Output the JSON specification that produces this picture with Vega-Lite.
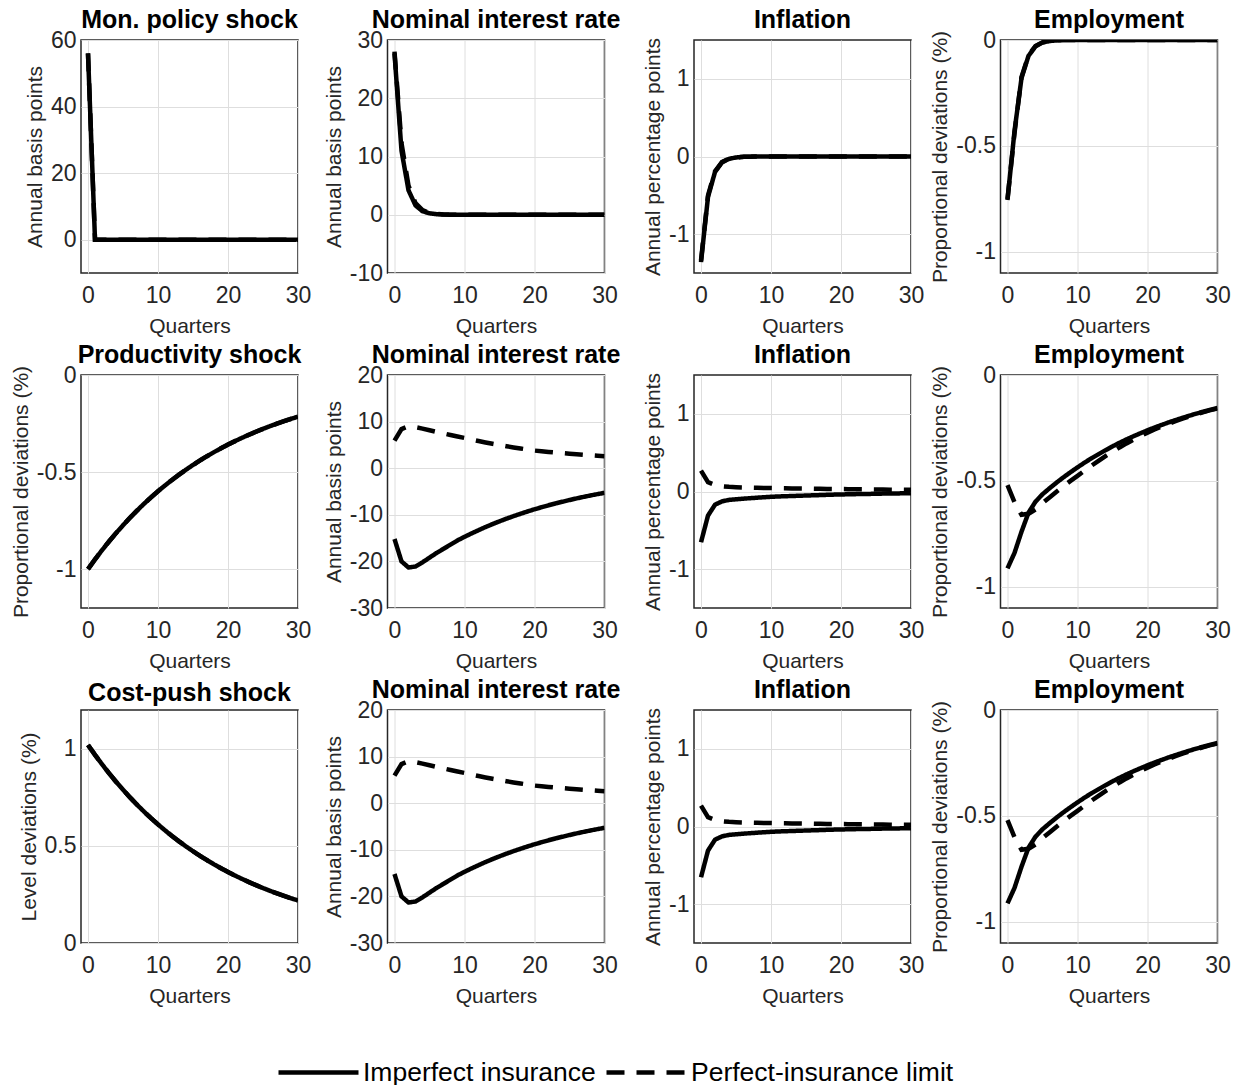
{
"$schema": "https://vega.github.io/schema/vega-lite/v6.json",
"padding": {"left": 9, "top": 6, "right": 5, "bottom": 5},
"background": "white",
"data": {"values": [
{"p":"m1","t":0,"imperfect":56,"perfect":56},{"p":"m1","t":1,"imperfect":0,"perfect":0},{"p":"m1","t":2,"imperfect":0,"perfect":0},{"p":"m1","t":3,"imperfect":0,"perfect":0},{"p":"m1","t":4,"imperfect":0,"perfect":0},{"p":"m1","t":5,"imperfect":0,"perfect":0},{"p":"m1","t":6,"imperfect":0,"perfect":0},{"p":"m1","t":7,"imperfect":0,"perfect":0},{"p":"m1","t":8,"imperfect":0,"perfect":0},{"p":"m1","t":9,"imperfect":0,"perfect":0},{"p":"m1","t":10,"imperfect":0,"perfect":0},{"p":"m1","t":11,"imperfect":0,"perfect":0},{"p":"m1","t":12,"imperfect":0,"perfect":0},{"p":"m1","t":13,"imperfect":0,"perfect":0},{"p":"m1","t":14,"imperfect":0,"perfect":0},{"p":"m1","t":15,"imperfect":0,"perfect":0},{"p":"m1","t":16,"imperfect":0,"perfect":0},{"p":"m1","t":17,"imperfect":0,"perfect":0},{"p":"m1","t":18,"imperfect":0,"perfect":0},{"p":"m1","t":19,"imperfect":0,"perfect":0},{"p":"m1","t":20,"imperfect":0,"perfect":0},{"p":"m1","t":21,"imperfect":0,"perfect":0},{"p":"m1","t":22,"imperfect":0,"perfect":0},{"p":"m1","t":23,"imperfect":0,"perfect":0},{"p":"m1","t":24,"imperfect":0,"perfect":0},{"p":"m1","t":25,"imperfect":0,"perfect":0},{"p":"m1","t":26,"imperfect":0,"perfect":0},{"p":"m1","t":27,"imperfect":0,"perfect":0},{"p":"m1","t":28,"imperfect":0,"perfect":0},{"p":"m1","t":29,"imperfect":0,"perfect":0},{"p":"m1","t":30,"imperfect":0,"perfect":0},

{"p":"i1","t":0,"imperfect":27.7,"perfect":28.0},{"p":"i1","t":1,"imperfect":11.0,"perfect":12.3},{"p":"i1","t":2,"imperfect":4.2,"perfect":5.0},{"p":"i1","t":3,"imperfect":1.6,"perfect":2.0},{"p":"i1","t":4,"imperfect":0.6,"perfect":0.8},{"p":"i1","t":5,"imperfect":0.25,"perfect":0.32},{"p":"i1","t":6,"imperfect":0.1,"perfect":0.13},{"p":"i1","t":7,"imperfect":0.04,"perfect":0.05},{"p":"i1","t":8,"imperfect":0.015,"perfect":0.02},{"p":"i1","t":9,"imperfect":0.005,"perfect":0.008},{"p":"i1","t":10,"imperfect":0,"perfect":0},{"p":"i1","t":11,"imperfect":0,"perfect":0},{"p":"i1","t":12,"imperfect":0,"perfect":0},{"p":"i1","t":13,"imperfect":0,"perfect":0},{"p":"i1","t":14,"imperfect":0,"perfect":0},{"p":"i1","t":15,"imperfect":0,"perfect":0},{"p":"i1","t":16,"imperfect":0,"perfect":0},{"p":"i1","t":17,"imperfect":0,"perfect":0},{"p":"i1","t":18,"imperfect":0,"perfect":0},{"p":"i1","t":19,"imperfect":0,"perfect":0},{"p":"i1","t":20,"imperfect":0,"perfect":0},{"p":"i1","t":21,"imperfect":0,"perfect":0},{"p":"i1","t":22,"imperfect":0,"perfect":0},{"p":"i1","t":23,"imperfect":0,"perfect":0},{"p":"i1","t":24,"imperfect":0,"perfect":0},{"p":"i1","t":25,"imperfect":0,"perfect":0},{"p":"i1","t":26,"imperfect":0,"perfect":0},{"p":"i1","t":27,"imperfect":0,"perfect":0},{"p":"i1","t":28,"imperfect":0,"perfect":0},{"p":"i1","t":29,"imperfect":0,"perfect":0},{"p":"i1","t":30,"imperfect":0,"perfect":0},

{"p":"p1","t":0,"imperfect":-1.36,"perfect":-1.34},{"p":"p1","t":1,"imperfect":-0.52,"perfect":-0.5},{"p":"p1","t":2,"imperfect":-0.2,"perfect":-0.19},{"p":"p1","t":3,"imperfect":-0.075,"perfect":-0.072},{"p":"p1","t":4,"imperfect":-0.03,"perfect":-0.028},{"p":"p1","t":5,"imperfect":-0.012,"perfect":-0.011},{"p":"p1","t":6,"imperfect":-0.005,"perfect":-0.004},{"p":"p1","t":7,"imperfect":-0.002,"perfect":-0.002},{"p":"p1","t":8,"imperfect":0,"perfect":0},{"p":"p1","t":9,"imperfect":0,"perfect":0},{"p":"p1","t":10,"imperfect":0,"perfect":0},{"p":"p1","t":11,"imperfect":0,"perfect":0},{"p":"p1","t":12,"imperfect":0,"perfect":0},{"p":"p1","t":13,"imperfect":0,"perfect":0},{"p":"p1","t":14,"imperfect":0,"perfect":0},{"p":"p1","t":15,"imperfect":0,"perfect":0},{"p":"p1","t":16,"imperfect":0,"perfect":0},{"p":"p1","t":17,"imperfect":0,"perfect":0},{"p":"p1","t":18,"imperfect":0,"perfect":0},{"p":"p1","t":19,"imperfect":0,"perfect":0},{"p":"p1","t":20,"imperfect":0,"perfect":0},{"p":"p1","t":21,"imperfect":0,"perfect":0},{"p":"p1","t":22,"imperfect":0,"perfect":0},{"p":"p1","t":23,"imperfect":0,"perfect":0},{"p":"p1","t":24,"imperfect":0,"perfect":0},{"p":"p1","t":25,"imperfect":0,"perfect":0},{"p":"p1","t":26,"imperfect":0,"perfect":0},{"p":"p1","t":27,"imperfect":0,"perfect":0},{"p":"p1","t":28,"imperfect":0,"perfect":0},{"p":"p1","t":29,"imperfect":0,"perfect":0},{"p":"p1","t":30,"imperfect":0,"perfect":0},

{"p":"e1","t":0,"imperfect":-0.755,"perfect":-0.75},{"p":"e1","t":1,"imperfect":-0.43,"perfect":-0.44},{"p":"e1","t":2,"imperfect":-0.18,"perfect":-0.175},{"p":"e1","t":3,"imperfect":-0.075,"perfect":-0.072},{"p":"e1","t":4,"imperfect":-0.03,"perfect":-0.028},{"p":"e1","t":5,"imperfect":-0.012,"perfect":-0.011},{"p":"e1","t":6,"imperfect":-0.005,"perfect":-0.004},{"p":"e1","t":7,"imperfect":-0.002,"perfect":-0.002},{"p":"e1","t":8,"imperfect":0,"perfect":0},{"p":"e1","t":9,"imperfect":0,"perfect":0},{"p":"e1","t":10,"imperfect":0,"perfect":0},{"p":"e1","t":11,"imperfect":0,"perfect":0},{"p":"e1","t":12,"imperfect":0,"perfect":0},{"p":"e1","t":13,"imperfect":0,"perfect":0},{"p":"e1","t":14,"imperfect":0,"perfect":0},{"p":"e1","t":15,"imperfect":0,"perfect":0},{"p":"e1","t":16,"imperfect":0,"perfect":0},{"p":"e1","t":17,"imperfect":0,"perfect":0},{"p":"e1","t":18,"imperfect":0,"perfect":0},{"p":"e1","t":19,"imperfect":0,"perfect":0},{"p":"e1","t":20,"imperfect":0,"perfect":0},{"p":"e1","t":21,"imperfect":0,"perfect":0},{"p":"e1","t":22,"imperfect":0,"perfect":0},{"p":"e1","t":23,"imperfect":0,"perfect":0},{"p":"e1","t":24,"imperfect":0,"perfect":0},{"p":"e1","t":25,"imperfect":0,"perfect":0},{"p":"e1","t":26,"imperfect":0,"perfect":0},{"p":"e1","t":27,"imperfect":0,"perfect":0},{"p":"e1","t":28,"imperfect":0,"perfect":0},{"p":"e1","t":29,"imperfect":0,"perfect":0},{"p":"e1","t":30,"imperfect":0,"perfect":0},

{"p":"z2","t":0,"imperfect":-1,"perfect":-1},{"p":"z2","t":1,"imperfect":-0.95,"perfect":-0.95},{"p":"z2","t":2,"imperfect":-0.9025,"perfect":-0.9025},{"p":"z2","t":3,"imperfect":-0.8574,"perfect":-0.8574},{"p":"z2","t":4,"imperfect":-0.8145,"perfect":-0.8145},{"p":"z2","t":5,"imperfect":-0.7738,"perfect":-0.7738},{"p":"z2","t":6,"imperfect":-0.7351,"perfect":-0.7351},{"p":"z2","t":7,"imperfect":-0.6983,"perfect":-0.6983},{"p":"z2","t":8,"imperfect":-0.6634,"perfect":-0.6634},{"p":"z2","t":9,"imperfect":-0.6302,"perfect":-0.6302},{"p":"z2","t":10,"imperfect":-0.5987,"perfect":-0.5987},{"p":"z2","t":11,"imperfect":-0.5688,"perfect":-0.5688},{"p":"z2","t":12,"imperfect":-0.5404,"perfect":-0.5404},{"p":"z2","t":13,"imperfect":-0.5133,"perfect":-0.5133},{"p":"z2","t":14,"imperfect":-0.4877,"perfect":-0.4877},{"p":"z2","t":15,"imperfect":-0.4633,"perfect":-0.4633},{"p":"z2","t":16,"imperfect":-0.4401,"perfect":-0.4401},{"p":"z2","t":17,"imperfect":-0.4181,"perfect":-0.4181},{"p":"z2","t":18,"imperfect":-0.3972,"perfect":-0.3972},{"p":"z2","t":19,"imperfect":-0.3774,"perfect":-0.3774},{"p":"z2","t":20,"imperfect":-0.3585,"perfect":-0.3585},{"p":"z2","t":21,"imperfect":-0.3406,"perfect":-0.3406},{"p":"z2","t":22,"imperfect":-0.3235,"perfect":-0.3235},{"p":"z2","t":23,"imperfect":-0.3074,"perfect":-0.3074},{"p":"z2","t":24,"imperfect":-0.292,"perfect":-0.292},{"p":"z2","t":25,"imperfect":-0.2774,"perfect":-0.2774},{"p":"z2","t":26,"imperfect":-0.2635,"perfect":-0.2635},{"p":"z2","t":27,"imperfect":-0.2503,"perfect":-0.2503},{"p":"z2","t":28,"imperfect":-0.2378,"perfect":-0.2378},{"p":"z2","t":29,"imperfect":-0.2259,"perfect":-0.2259},{"p":"z2","t":30,"imperfect":-0.2146,"perfect":-0.2146},

{"p":"i2","t":0,"imperfect":-15.2,"perfect":5.9},{"p":"i2","t":1,"imperfect":-20.0,"perfect":8.4},{"p":"i2","t":2,"imperfect":-21.3,"perfect":9.0},{"p":"i2","t":3,"imperfect":-21.1,"perfect":8.8},{"p":"i2","t":4,"imperfect":-20.2,"perfect":8.5},{"p":"i2","t":5,"imperfect":-19.2,"perfect":8.15},{"p":"i2","t":6,"imperfect":-18.2,"perfect":7.8},{"p":"i2","t":7,"imperfect":-17.3,"perfect":7.45},{"p":"i2","t":8,"imperfect":-16.4,"perfect":7.12},{"p":"i2","t":9,"imperfect":-15.5,"perfect":6.8},{"p":"i2","t":10,"imperfect":-14.73,"perfect":6.5},{"p":"i2","t":11,"imperfect":-14.0,"perfect":6.16},{"p":"i2","t":12,"imperfect":-13.3,"perfect":5.84},{"p":"i2","t":13,"imperfect":-12.63,"perfect":5.53},{"p":"i2","t":14,"imperfect":-12.0,"perfect":5.24},{"p":"i2","t":15,"imperfect":-11.4,"perfect":4.97},{"p":"i2","t":16,"imperfect":-10.83,"perfect":4.71},{"p":"i2","t":17,"imperfect":-10.29,"perfect":4.46},{"p":"i2","t":18,"imperfect":-9.78,"perfect":4.23},{"p":"i2","t":19,"imperfect":-9.29,"perfect":4.0},{"p":"i2","t":20,"imperfect":-8.82,"perfect":3.78},{"p":"i2","t":21,"imperfect":-8.38,"perfect":3.64},{"p":"i2","t":22,"imperfect":-7.96,"perfect":3.5},{"p":"i2","t":23,"imperfect":-7.56,"perfect":3.37},{"p":"i2","t":24,"imperfect":-7.19,"perfect":3.24},{"p":"i2","t":25,"imperfect":-6.83,"perfect":3.12},{"p":"i2","t":26,"imperfect":-6.48,"perfect":3.0},{"p":"i2","t":27,"imperfect":-6.16,"perfect":2.88},{"p":"i2","t":28,"imperfect":-5.85,"perfect":2.77},{"p":"i2","t":29,"imperfect":-5.56,"perfect":2.66},{"p":"i2","t":30,"imperfect":-5.28,"perfect":2.55},

{"p":"p2","t":0,"imperfect":-0.654,"perfect":0.268},{"p":"p2","t":1,"imperfect":-0.31,"perfect":0.12},{"p":"p2","t":2,"imperfect":-0.17,"perfect":0.085},{"p":"p2","t":3,"imperfect":-0.127,"perfect":0.068},{"p":"p2","t":4,"imperfect":-0.108,"perfect":0.06},{"p":"p2","t":5,"imperfect":-0.1,"perfect":0.055},{"p":"p2","t":6,"imperfect":-0.093,"perfect":0.052},{"p":"p2","t":7,"imperfect":-0.086,"perfect":0.05},{"p":"p2","t":8,"imperfect":-0.08,"perfect":0.048},{"p":"p2","t":9,"imperfect":-0.074,"perfect":0.046},{"p":"p2","t":10,"imperfect":-0.068,"perfect":0.044},{"p":"p2","t":11,"imperfect":-0.064,"perfect":0.042},{"p":"p2","t":12,"imperfect":-0.061,"perfect":0.041},{"p":"p2","t":13,"imperfect":-0.058,"perfect":0.04},{"p":"p2","t":14,"imperfect":-0.055,"perfect":0.038},{"p":"p2","t":15,"imperfect":-0.052,"perfect":0.037},{"p":"p2","t":16,"imperfect":-0.049,"perfect":0.036},{"p":"p2","t":17,"imperfect":-0.046,"perfect":0.034},{"p":"p2","t":18,"imperfect":-0.043,"perfect":0.033},{"p":"p2","t":19,"imperfect":-0.04,"perfect":0.032},{"p":"p2","t":20,"imperfect":-0.038,"perfect":0.031},{"p":"p2","t":21,"imperfect":-0.036,"perfect":0.03},{"p":"p2","t":22,"imperfect":-0.034,"perfect":0.029},{"p":"p2","t":23,"imperfect":-0.032,"perfect":0.028},{"p":"p2","t":24,"imperfect":-0.031,"perfect":0.027},{"p":"p2","t":25,"imperfect":-0.029,"perfect":0.026},{"p":"p2","t":26,"imperfect":-0.027,"perfect":0.025},{"p":"p2","t":27,"imperfect":-0.026,"perfect":0.024},{"p":"p2","t":28,"imperfect":-0.025,"perfect":0.023},{"p":"p2","t":29,"imperfect":-0.023,"perfect":0.022},{"p":"p2","t":30,"imperfect":-0.022,"perfect":0.022},

{"p":"e2","t":0,"imperfect":-0.913,"perfect":-0.52},{"p":"e2","t":1,"imperfect":-0.84,"perfect":-0.6},{"p":"e2","t":2,"imperfect":-0.74,"perfect":-0.66},{"p":"e2","t":3,"imperfect":-0.65,"perfect":-0.655},{"p":"e2","t":4,"imperfect":-0.598,"perfect":-0.635},{"p":"e2","t":5,"imperfect":-0.563,"perfect":-0.605},{"p":"e2","t":6,"imperfect":-0.535,"perfect":-0.578},{"p":"e2","t":7,"imperfect":-0.508,"perfect":-0.551},{"p":"e2","t":8,"imperfect":-0.483,"perfect":-0.525},{"p":"e2","t":9,"imperfect":-0.459,"perfect":-0.5},{"p":"e2","t":10,"imperfect":-0.436,"perfect":-0.476},{"p":"e2","t":11,"imperfect":-0.414,"perfect":-0.452},{"p":"e2","t":12,"imperfect":-0.393,"perfect":-0.428},{"p":"e2","t":13,"imperfect":-0.374,"perfect":-0.405},{"p":"e2","t":14,"imperfect":-0.355,"perfect":-0.383},{"p":"e2","t":15,"imperfect":-0.337,"perfect":-0.362},{"p":"e2","t":16,"imperfect":-0.32,"perfect":-0.342},{"p":"e2","t":17,"imperfect":-0.304,"perfect":-0.323},{"p":"e2","t":18,"imperfect":-0.289,"perfect":-0.305},{"p":"e2","t":19,"imperfect":-0.275,"perfect":-0.288},{"p":"e2","t":20,"imperfect":-0.261,"perfect":-0.272},{"p":"e2","t":21,"imperfect":-0.248,"perfect":-0.257},{"p":"e2","t":22,"imperfect":-0.236,"perfect":-0.243},{"p":"e2","t":23,"imperfect":-0.224,"perfect":-0.23},{"p":"e2","t":24,"imperfect":-0.213,"perfect":-0.218},{"p":"e2","t":25,"imperfect":-0.202,"perfect":-0.206},{"p":"e2","t":26,"imperfect":-0.192,"perfect":-0.195},{"p":"e2","t":27,"imperfect":-0.182,"perfect":-0.185},{"p":"e2","t":28,"imperfect":-0.173,"perfect":-0.175},{"p":"e2","t":29,"imperfect":-0.164,"perfect":-0.166},{"p":"e2","t":30,"imperfect":-0.156,"perfect":-0.158},

{"p":"c3","t":0,"imperfect":1.02,"perfect":1.02},{"p":"c3","t":1,"imperfect":0.969,"perfect":0.969},{"p":"c3","t":2,"imperfect":0.9206,"perfect":0.9206},{"p":"c3","t":3,"imperfect":0.8745,"perfect":0.8745},{"p":"c3","t":4,"imperfect":0.8308,"perfect":0.8308},{"p":"c3","t":5,"imperfect":0.7893,"perfect":0.7893},{"p":"c3","t":6,"imperfect":0.7498,"perfect":0.7498},{"p":"c3","t":7,"imperfect":0.7123,"perfect":0.7123},{"p":"c3","t":8,"imperfect":0.6767,"perfect":0.6767},{"p":"c3","t":9,"imperfect":0.6428,"perfect":0.6428},{"p":"c3","t":10,"imperfect":0.6107,"perfect":0.6107},{"p":"c3","t":11,"imperfect":0.5802,"perfect":0.5802},{"p":"c3","t":12,"imperfect":0.5512,"perfect":0.5512},{"p":"c3","t":13,"imperfect":0.5236,"perfect":0.5236},{"p":"c3","t":14,"imperfect":0.4974,"perfect":0.4974},{"p":"c3","t":15,"imperfect":0.4726,"perfect":0.4726},{"p":"c3","t":16,"imperfect":0.4489,"perfect":0.4489},{"p":"c3","t":17,"imperfect":0.4265,"perfect":0.4265},{"p":"c3","t":18,"imperfect":0.4051,"perfect":0.4051},{"p":"c3","t":19,"imperfect":0.3849,"perfect":0.3849},{"p":"c3","t":20,"imperfect":0.3657,"perfect":0.3657},{"p":"c3","t":21,"imperfect":0.3474,"perfect":0.3474},{"p":"c3","t":22,"imperfect":0.33,"perfect":0.33},{"p":"c3","t":23,"imperfect":0.3135,"perfect":0.3135},{"p":"c3","t":24,"imperfect":0.2978,"perfect":0.2978},{"p":"c3","t":25,"imperfect":0.2829,"perfect":0.2829},{"p":"c3","t":26,"imperfect":0.2688,"perfect":0.2688},{"p":"c3","t":27,"imperfect":0.2553,"perfect":0.2553},{"p":"c3","t":28,"imperfect":0.2426,"perfect":0.2426},{"p":"c3","t":29,"imperfect":0.2304,"perfect":0.2304},{"p":"c3","t":30,"imperfect":0.2189,"perfect":0.2189},

{"p":"i3","t":0,"imperfect":-15.2,"perfect":5.9},{"p":"i3","t":1,"imperfect":-20.0,"perfect":8.4},{"p":"i3","t":2,"imperfect":-21.3,"perfect":9.0},{"p":"i3","t":3,"imperfect":-21.1,"perfect":8.8},{"p":"i3","t":4,"imperfect":-20.2,"perfect":8.5},{"p":"i3","t":5,"imperfect":-19.2,"perfect":8.15},{"p":"i3","t":6,"imperfect":-18.2,"perfect":7.8},{"p":"i3","t":7,"imperfect":-17.3,"perfect":7.45},{"p":"i3","t":8,"imperfect":-16.4,"perfect":7.12},{"p":"i3","t":9,"imperfect":-15.5,"perfect":6.8},{"p":"i3","t":10,"imperfect":-14.73,"perfect":6.5},{"p":"i3","t":11,"imperfect":-14.0,"perfect":6.16},{"p":"i3","t":12,"imperfect":-13.3,"perfect":5.84},{"p":"i3","t":13,"imperfect":-12.63,"perfect":5.53},{"p":"i3","t":14,"imperfect":-12.0,"perfect":5.24},{"p":"i3","t":15,"imperfect":-11.4,"perfect":4.97},{"p":"i3","t":16,"imperfect":-10.83,"perfect":4.71},{"p":"i3","t":17,"imperfect":-10.29,"perfect":4.46},{"p":"i3","t":18,"imperfect":-9.78,"perfect":4.23},{"p":"i3","t":19,"imperfect":-9.29,"perfect":4.0},{"p":"i3","t":20,"imperfect":-8.82,"perfect":3.78},{"p":"i3","t":21,"imperfect":-8.38,"perfect":3.64},{"p":"i3","t":22,"imperfect":-7.96,"perfect":3.5},{"p":"i3","t":23,"imperfect":-7.56,"perfect":3.37},{"p":"i3","t":24,"imperfect":-7.19,"perfect":3.24},{"p":"i3","t":25,"imperfect":-6.83,"perfect":3.12},{"p":"i3","t":26,"imperfect":-6.48,"perfect":3.0},{"p":"i3","t":27,"imperfect":-6.16,"perfect":2.88},{"p":"i3","t":28,"imperfect":-5.85,"perfect":2.77},{"p":"i3","t":29,"imperfect":-5.56,"perfect":2.66},{"p":"i3","t":30,"imperfect":-5.28,"perfect":2.55},

{"p":"p3","t":0,"imperfect":-0.654,"perfect":0.268},{"p":"p3","t":1,"imperfect":-0.31,"perfect":0.12},{"p":"p3","t":2,"imperfect":-0.17,"perfect":0.085},{"p":"p3","t":3,"imperfect":-0.127,"perfect":0.068},{"p":"p3","t":4,"imperfect":-0.108,"perfect":0.06},{"p":"p3","t":5,"imperfect":-0.1,"perfect":0.055},{"p":"p3","t":6,"imperfect":-0.093,"perfect":0.052},{"p":"p3","t":7,"imperfect":-0.086,"perfect":0.05},{"p":"p3","t":8,"imperfect":-0.08,"perfect":0.048},{"p":"p3","t":9,"imperfect":-0.074,"perfect":0.046},{"p":"p3","t":10,"imperfect":-0.068,"perfect":0.044},{"p":"p3","t":11,"imperfect":-0.064,"perfect":0.042},{"p":"p3","t":12,"imperfect":-0.061,"perfect":0.041},{"p":"p3","t":13,"imperfect":-0.058,"perfect":0.04},{"p":"p3","t":14,"imperfect":-0.055,"perfect":0.038},{"p":"p3","t":15,"imperfect":-0.052,"perfect":0.037},{"p":"p3","t":16,"imperfect":-0.049,"perfect":0.036},{"p":"p3","t":17,"imperfect":-0.046,"perfect":0.034},{"p":"p3","t":18,"imperfect":-0.043,"perfect":0.033},{"p":"p3","t":19,"imperfect":-0.04,"perfect":0.032},{"p":"p3","t":20,"imperfect":-0.038,"perfect":0.031},{"p":"p3","t":21,"imperfect":-0.036,"perfect":0.03},{"p":"p3","t":22,"imperfect":-0.034,"perfect":0.029},{"p":"p3","t":23,"imperfect":-0.032,"perfect":0.028},{"p":"p3","t":24,"imperfect":-0.031,"perfect":0.027},{"p":"p3","t":25,"imperfect":-0.029,"perfect":0.026},{"p":"p3","t":26,"imperfect":-0.027,"perfect":0.025},{"p":"p3","t":27,"imperfect":-0.026,"perfect":0.024},{"p":"p3","t":28,"imperfect":-0.025,"perfect":0.023},{"p":"p3","t":29,"imperfect":-0.023,"perfect":0.022},{"p":"p3","t":30,"imperfect":-0.022,"perfect":0.022},

{"p":"e3","t":0,"imperfect":-0.913,"perfect":-0.52},{"p":"e3","t":1,"imperfect":-0.84,"perfect":-0.6},{"p":"e3","t":2,"imperfect":-0.74,"perfect":-0.66},{"p":"e3","t":3,"imperfect":-0.65,"perfect":-0.655},{"p":"e3","t":4,"imperfect":-0.598,"perfect":-0.635},{"p":"e3","t":5,"imperfect":-0.563,"perfect":-0.605},{"p":"e3","t":6,"imperfect":-0.535,"perfect":-0.578},{"p":"e3","t":7,"imperfect":-0.508,"perfect":-0.551},{"p":"e3","t":8,"imperfect":-0.483,"perfect":-0.525},{"p":"e3","t":9,"imperfect":-0.459,"perfect":-0.5},{"p":"e3","t":10,"imperfect":-0.436,"perfect":-0.476},{"p":"e3","t":11,"imperfect":-0.414,"perfect":-0.452},{"p":"e3","t":12,"imperfect":-0.393,"perfect":-0.428},{"p":"e3","t":13,"imperfect":-0.374,"perfect":-0.405},{"p":"e3","t":14,"imperfect":-0.355,"perfect":-0.383},{"p":"e3","t":15,"imperfect":-0.337,"perfect":-0.362},{"p":"e3","t":16,"imperfect":-0.32,"perfect":-0.342},{"p":"e3","t":17,"imperfect":-0.304,"perfect":-0.323},{"p":"e3","t":18,"imperfect":-0.289,"perfect":-0.305},{"p":"e3","t":19,"imperfect":-0.275,"perfect":-0.288},{"p":"e3","t":20,"imperfect":-0.261,"perfect":-0.272},{"p":"e3","t":21,"imperfect":-0.248,"perfect":-0.257},{"p":"e3","t":22,"imperfect":-0.236,"perfect":-0.243},{"p":"e3","t":23,"imperfect":-0.224,"perfect":-0.23},{"p":"e3","t":24,"imperfect":-0.213,"perfect":-0.218},{"p":"e3","t":25,"imperfect":-0.202,"perfect":-0.206},{"p":"e3","t":26,"imperfect":-0.192,"perfect":-0.195},{"p":"e3","t":27,"imperfect":-0.182,"perfect":-0.185},{"p":"e3","t":28,"imperfect":-0.173,"perfect":-0.175},{"p":"e3","t":29,"imperfect":-0.164,"perfect":-0.166},{"p":"e3","t":30,"imperfect":-0.156,"perfect":-0.158}
]},
"columns": 4,
"spacing": {"row": 102, "column": 89.5},
"bounds": "flush",
"resolve": {"scale": {"strokeDash": "independent"}, "legend": {"strokeDash": "independent"}},
"concat": [
{"width":217,"height":233,"title":{"text":"Mon. policy shock","offset":-3.5},"transform":[{"filter":"datum.p == 'm1'"},{"fold":["imperfect","perfect"],"as":["series","v"]}],"mark":{"type":"line","strokeWidth":4.5,"color":"black","clip":true},"encoding":{"x":{"field":"t","type":"quantitative","scale":{"domain":[-1,30],"nice":false,"zero":false},"axis":{"title":"Quarters","values":[0,10,20,30]}},"y":{"field":"v","type":"quantitative","scale":{"domain":[-10,60],"nice":false,"zero":false},"axis":{"title":"Annual basis points","values":[0,20,40,60],"labelExpr":"'' + datum.value"}},"strokeDash":{"field":"series","type":"nominal","scale":{"domain":["imperfect","perfect"],"range":[[1,0],[18,12]]},"legend":null}}},
{"width":217,"height":233,"title":{"text":"Nominal interest rate","offset":-3.5},"transform":[{"filter":"datum.p == 'i1'"},{"fold":["imperfect","perfect"],"as":["series","v"]}],"mark":{"type":"line","strokeWidth":4.5,"color":"black","clip":true},"encoding":{"x":{"field":"t","type":"quantitative","scale":{"domain":[-1,30],"nice":false,"zero":false},"axis":{"title":"Quarters","values":[0,10,20,30]}},"y":{"field":"v","type":"quantitative","scale":{"domain":[-10,30],"nice":false,"zero":false},"axis":{"title":"Annual basis points","values":[-10,0,10,20,30],"labelExpr":"'' + datum.value"}},"strokeDash":{"field":"series","type":"nominal","scale":{"domain":["imperfect","perfect"],"range":[[1,0],[18,12]]},"legend":null}}},
{"width":217,"height":233,"title":{"text":"Inflation","offset":4.5},"transform":[{"filter":"datum.p == 'p1'"},{"fold":["imperfect","perfect"],"as":["series","v"]}],"mark":{"type":"line","strokeWidth":4.5,"color":"black","clip":true},"encoding":{"x":{"field":"t","type":"quantitative","scale":{"domain":[-1,30],"nice":false,"zero":false},"axis":{"title":"Quarters","values":[0,10,20,30]}},"y":{"field":"v","type":"quantitative","scale":{"domain":[-1.5,1.5],"nice":false,"zero":false},"axis":{"title":"Annual percentage points","values":[-1,0,1],"labelExpr":"'' + datum.value"}},"strokeDash":{"field":"series","type":"nominal","scale":{"domain":["imperfect","perfect"],"range":[[1,0],[18,12]]},"legend":null}}},
{"width":217,"height":233,"title":{"text":"Employment","offset":-3.5},"transform":[{"filter":"datum.p == 'e1'"},{"fold":["imperfect","perfect"],"as":["series","v"]}],"mark":{"type":"line","strokeWidth":4.5,"color":"black","clip":true},"encoding":{"x":{"field":"t","type":"quantitative","scale":{"domain":[-1,30],"nice":false,"zero":false},"axis":{"title":"Quarters","values":[0,10,20,30]}},"y":{"field":"v","type":"quantitative","scale":{"domain":[-1.1,0],"nice":false,"zero":false},"axis":{"title":"Proportional deviations (%)","values":[-1,-0.5,0],"labelExpr":"'' + datum.value"}},"strokeDash":{"field":"series","type":"nominal","scale":{"domain":["imperfect","perfect"],"range":[[1,0],[18,12]]},"legend":null}}},

{"width":217,"height":233,"title":{"text":"Productivity shock","offset":-3.5},"transform":[{"filter":"datum.p == 'z2'"},{"fold":["imperfect","perfect"],"as":["series","v"]}],"mark":{"type":"line","strokeWidth":4.5,"color":"black","clip":true},"encoding":{"x":{"field":"t","type":"quantitative","scale":{"domain":[-1,30],"nice":false,"zero":false},"axis":{"title":"Quarters","values":[0,10,20,30]}},"y":{"field":"v","type":"quantitative","scale":{"domain":[-1.2,0],"nice":false,"zero":false},"axis":{"title":"Proportional deviations (%)","values":[-1,-0.5,0],"labelExpr":"'' + datum.value"}},"strokeDash":{"field":"series","type":"nominal","scale":{"domain":["imperfect","perfect"],"range":[[1,0],[18,12]]},"legend":null}}},
{"width":217,"height":233,"title":{"text":"Nominal interest rate","offset":-3.5},"transform":[{"filter":"datum.p == 'i2'"},{"fold":["imperfect","perfect"],"as":["series","v"]}],"mark":{"type":"line","strokeWidth":4.5,"color":"black","clip":true},"encoding":{"x":{"field":"t","type":"quantitative","scale":{"domain":[-1,30],"nice":false,"zero":false},"axis":{"title":"Quarters","values":[0,10,20,30]}},"y":{"field":"v","type":"quantitative","scale":{"domain":[-30,20],"nice":false,"zero":false},"axis":{"title":"Annual basis points","values":[-30,-20,-10,0,10,20],"labelExpr":"'' + datum.value"}},"strokeDash":{"field":"series","type":"nominal","scale":{"domain":["imperfect","perfect"],"range":[[1,0],[18,12]]},"legend":null}}},
{"width":217,"height":233,"title":{"text":"Inflation","offset":4.5},"transform":[{"filter":"datum.p == 'p2'"},{"fold":["imperfect","perfect"],"as":["series","v"]}],"mark":{"type":"line","strokeWidth":4.5,"color":"black","clip":true},"encoding":{"x":{"field":"t","type":"quantitative","scale":{"domain":[-1,30],"nice":false,"zero":false},"axis":{"title":"Quarters","values":[0,10,20,30]}},"y":{"field":"v","type":"quantitative","scale":{"domain":[-1.5,1.5],"nice":false,"zero":false},"axis":{"title":"Annual percentage points","values":[-1,0,1],"labelExpr":"'' + datum.value"}},"strokeDash":{"field":"series","type":"nominal","scale":{"domain":["imperfect","perfect"],"range":[[1,0],[18,12]]},"legend":null}}},
{"width":217,"height":233,"title":{"text":"Employment","offset":-3.5},"transform":[{"filter":"datum.p == 'e2'"},{"fold":["imperfect","perfect"],"as":["series","v"]}],"mark":{"type":"line","strokeWidth":4.5,"color":"black","clip":true},"encoding":{"x":{"field":"t","type":"quantitative","scale":{"domain":[-1,30],"nice":false,"zero":false},"axis":{"title":"Quarters","values":[0,10,20,30]}},"y":{"field":"v","type":"quantitative","scale":{"domain":[-1.1,0],"nice":false,"zero":false},"axis":{"title":"Proportional deviations (%)","values":[-1,-0.5,0],"labelExpr":"'' + datum.value"}},"strokeDash":{"field":"series","type":"nominal","scale":{"domain":["imperfect","perfect"],"range":[[1,0],[18,12]]},"legend":null}}},

{"width":217,"height":233,"title":{"text":"Cost-push shock","offset":4.5},"transform":[{"filter":"datum.p == 'c3'"},{"fold":["imperfect","perfect"],"as":["series","v"]}],"mark":{"type":"line","strokeWidth":4.5,"color":"black","clip":true},"encoding":{"x":{"field":"t","type":"quantitative","scale":{"domain":[-1,30],"nice":false,"zero":false},"axis":{"title":"Quarters","values":[0,10,20,30]}},"y":{"field":"v","type":"quantitative","scale":{"domain":[0,1.2],"nice":false,"zero":false},"axis":{"title":"Level deviations (%)","values":[0,0.5,1],"labelExpr":"'' + datum.value"}},"strokeDash":{"field":"series","type":"nominal","scale":{"domain":["imperfect","perfect"],"range":[[1,0],[18,12]]},"legend":{"orient":"none","legendX":195,"legendY":320,"direction":"horizontal","title":null,"symbolType":"stroke","symbolSize":6400,"symbolStrokeWidth":4.5,"symbolStrokeColor":"black","labelFontSize":26.5,"labelColor":"black","labelFont":"Liberation Sans","labelLimit":0,"labelOffset":2,"columnPadding":1,"padding":0,"labelExpr":"datum.value == 'imperfect' ? 'Imperfect insurance' : 'Perfect-insurance limit'"}}}},
{"width":217,"height":233,"title":{"text":"Nominal interest rate","offset":-3.5},"transform":[{"filter":"datum.p == 'i3'"},{"fold":["imperfect","perfect"],"as":["series","v"]}],"mark":{"type":"line","strokeWidth":4.5,"color":"black","clip":true},"encoding":{"x":{"field":"t","type":"quantitative","scale":{"domain":[-1,30],"nice":false,"zero":false},"axis":{"title":"Quarters","values":[0,10,20,30]}},"y":{"field":"v","type":"quantitative","scale":{"domain":[-30,20],"nice":false,"zero":false},"axis":{"title":"Annual basis points","values":[-30,-20,-10,0,10,20],"labelExpr":"'' + datum.value"}},"strokeDash":{"field":"series","type":"nominal","scale":{"domain":["imperfect","perfect"],"range":[[1,0],[18,12]]},"legend":null}}},
{"width":217,"height":233,"title":{"text":"Inflation","offset":4.5},"transform":[{"filter":"datum.p == 'p3'"},{"fold":["imperfect","perfect"],"as":["series","v"]}],"mark":{"type":"line","strokeWidth":4.5,"color":"black","clip":true},"encoding":{"x":{"field":"t","type":"quantitative","scale":{"domain":[-1,30],"nice":false,"zero":false},"axis":{"title":"Quarters","values":[0,10,20,30]}},"y":{"field":"v","type":"quantitative","scale":{"domain":[-1.5,1.5],"nice":false,"zero":false},"axis":{"title":"Annual percentage points","values":[-1,0,1],"labelExpr":"'' + datum.value"}},"strokeDash":{"field":"series","type":"nominal","scale":{"domain":["imperfect","perfect"],"range":[[1,0],[18,12]]},"legend":null}}},
{"width":217,"height":233,"title":{"text":"Employment","offset":-3.5},"transform":[{"filter":"datum.p == 'e3'"},{"fold":["imperfect","perfect"],"as":["series","v"]}],"mark":{"type":"line","strokeWidth":4.5,"color":"black","clip":true},"encoding":{"x":{"field":"t","type":"quantitative","scale":{"domain":[-1,30],"nice":false,"zero":false},"axis":{"title":"Quarters","values":[0,10,20,30]}},"y":{"field":"v","type":"quantitative","scale":{"domain":[-1.1,0],"nice":false,"zero":false},"axis":{"title":"Proportional deviations (%)","values":[-1,-0.5,0],"labelExpr":"'' + datum.value"}},"strokeDash":{"field":"series","type":"nominal","scale":{"domain":["imperfect","perfect"],"range":[[1,0],[18,12]]},"legend":null}}}
],
"config": {
"font": "Liberation Sans",
"view": {"stroke": "#262626", "strokeWidth": 1.5},
"axis": {"labelFont": "Liberation Sans", "titleFont": "Liberation Sans", "labelFontSize": 23, "labelColor": "#262626", "titleFontSize": 21, "titleFontWeight": "normal", "titleColor": "#262626", "grid": true, "gridColor": "#dedede", "gridWidth": 1, "domain": false, "ticks": false, "labelFlush": false, "labelOverlap": false},
"axisX": {"labelPadding": 11, "titlePadding": 8},
"axisY": {"labelPadding": 5, "titlePadding": 5},
"title": {"font": "Liberation Sans", "fontSize": 25, "fontWeight": "bold", "color": "black", "anchor": "middle", "baseline": "bottom", "offset": 7}
}
}
